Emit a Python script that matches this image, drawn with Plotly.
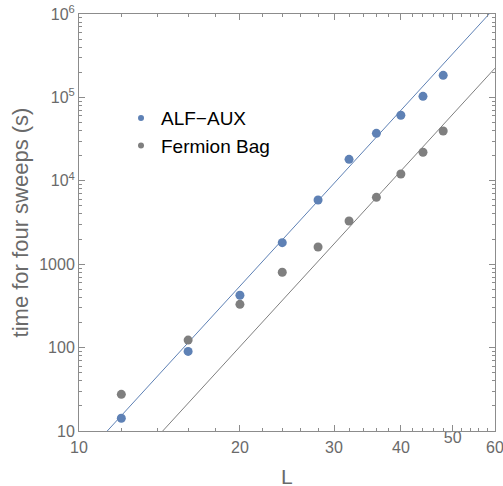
import numpy as np
import plotly.graph_objects as go

L = [12, 16, 20, 24, 28, 32, 36, 40, 44, 48]
alf_aux = [14.2, 90, 424, 1811, 5890, 18100, 37100, 61000, 103000, 184000]
fermion_bag = [27.5, 123, 330, 800, 1608, 3300, 6340, 12080, 21970, 39500]

# power-law guide lines: t = A * L^p
fit_exponent = 7
fit_prefactor_alf = 10 ** -6.37
fit_prefactor_fb = 10 ** -7.096

xtick_vals = [10, 20, 30, 40, 50, 60]
xtick_text = ["10", "20", "30", "40", "50", "60"]
ytick_vals = [10, 100, 1000, 1e4, 1e5, 1e6]
ytick_text = ["10", "100", "1000", "10<sup>4</sup>", "10<sup>5</sup>", "10<sup>6</sup>"]

blue = "#5E81B5"
gray = "#7F7F7F"
axis_col = "#8C8C8C"
label_col = "#6A6A6A"
font = "Liberation Sans, Arial, sans-serif"

Lfit = np.logspace(1, np.log10(60), 200)

fig = go.Figure()
fig.add_trace(go.Scatter(x=Lfit, y=fit_prefactor_alf * Lfit ** fit_exponent, mode="lines",
                         line=dict(color=blue, width=1), showlegend=False, hoverinfo="skip"))
fig.add_trace(go.Scatter(x=Lfit, y=fit_prefactor_fb * Lfit ** fit_exponent, mode="lines",
                         line=dict(color=gray, width=1), showlegend=False, hoverinfo="skip"))
fig.add_trace(go.Scatter(x=L, y=fermion_bag, mode="markers",
                         marker=dict(color=gray, size=9), showlegend=False))
fig.add_trace(go.Scatter(x=L, y=alf_aux, mode="markers",
                         marker=dict(color=blue, size=9), showlegend=False))
# legend entries (smaller symbols like the reference)
fig.add_trace(go.Scatter(x=[None], y=[None], mode="markers", name="ALF\u2212AUX",
                         marker=dict(color=blue, size=6)))
fig.add_trace(go.Scatter(x=[None], y=[None], mode="markers", name="Fermion Bag",
                         marker=dict(color=gray, size=6)))

xminor = [12, 14, 16, 18, 22, 24, 26, 28, 32, 34, 36, 38, 42, 44, 46, 48, 52, 54, 56, 58]
yminor = [m * 10 ** e for e in range(1, 6) for m in range(2, 10)]

fig.update_xaxes(type="log", range=[1, np.log10(60)], tickvals=xtick_vals,
                 showticklabels=False,
                 ticks="inside", ticklen=6, tickcolor=axis_col, tickwidth=1,
                 minor=dict(tickvals=xminor, ticks="inside", ticklen=3, tickcolor=axis_col),
                 showline=True, linecolor=axis_col, linewidth=1, mirror="allticks",
                 showgrid=False, zeroline=False, automargin=False)
fig.update_yaxes(type="log", range=[1, 6], tickvals=ytick_vals, ticktext=ytick_text,
                 ticks="inside", ticklen=6, tickcolor=axis_col, tickwidth=1,
                 minor=dict(tickvals=yminor, ticks="inside", ticklen=3, tickcolor=axis_col),
                 showline=True, linecolor=axis_col, linewidth=1, mirror="allticks",
                 showgrid=False, zeroline=False, automargin=False,
                 ticklabeloverflow="allow",
                 tickfont=dict(family=font, size=16, color=label_col),
                 title=dict(text="time for four sweeps (s)", font=dict(family=font, size=22, color=label_col), standoff=4))

# x tick labels as text placed at the tick positions
for v, t in zip(xtick_vals, xtick_text):
    if v == 50:
        fig.add_trace(go.Scatter(x=[v], y=[ytick_vals[0]], mode="text", text=[t],
                                 textposition="bottom center", cliponaxis=False,
                                 textfont=dict(family=font, size=16, color=label_col),
                                 showlegend=False, hoverinfo="skip"))
    else:
        fig.add_annotation(x=np.log10(v), xref="x", y=0, yref="paper", yanchor="top",
                           text=t, showarrow=False, yshift=-6,
                           font=dict(family=font, size=16, color=label_col))
# x-axis title
fig.add_annotation(x=0.5, xref="paper", y=0, yref="paper", yanchor="middle", yshift=-45,
                   text="L", showarrow=False, borderpad=0,
                   font=dict(family=font, size=21, color=label_col))

fig.update_layout(width=503, height=486, margin=dict(l=79, r=8, t=14, b=55),
                  paper_bgcolor="white", plot_bgcolor="white",
                  legend=dict(x=0.101, y=0.796, xanchor="left", yanchor="top",
                              font=dict(family=font, size=19, color="black"),
                              bgcolor="rgba(0,0,0,0)", itemwidth=30, tracegroupgap=0))
fig.write_html("out.html")
